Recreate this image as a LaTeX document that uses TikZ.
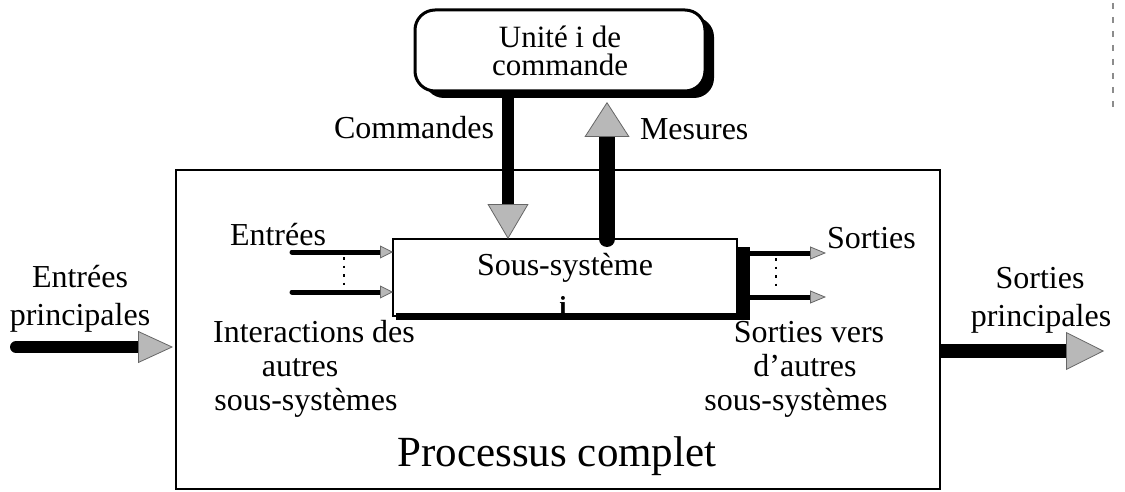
\documentclass[tikz,border=0pt]{standalone}
\usepackage{fontspec}
\setmainfont{Liberation Serif}
\usetikzlibrary{arrows.meta,calc,shadows}
\begin{document}
\begin{tikzpicture}[x=1pt,y=-1pt,
  every node/.style={inner sep=0pt,outer sep=0pt},
  lbl/.style={font=\fontsize{32}{34}\selectfont,anchor=base},
  frame/.style={draw,line width=2.4pt},
  bigin/.style={line width=12pt,line cap=round,
    -{Triangle[length=35pt,width=32pt,line width=0.8pt,fill=black!28,color=black!60]}},
  bigout/.style={line width=14pt,
    -{Triangle[length=38pt,width=38pt,line width=0.8pt,fill=black!28,color=black!60]}},
  cmdflow/.style={line width=12pt,
    -{Triangle[length=35pt,width=41pt,line width=0.8pt,fill=black!28,color=black!60]}},
  mesflow/.style={line width=16pt,line cap=round,
    -{Triangle[length=35pt,width=45pt,line width=0.8pt,fill=black!28,color=black!60]}},
  subin/.style={line width=5pt,line cap=round,
    -{Triangle[length=13pt,width=13pt,line width=0.8pt,fill=black!28,color=black!60]}},
  subout/.style={line width=5pt,
    -{Triangle[length=16pt,width=13pt,line width=0.8pt,fill=black!28,color=black!60]}},
  ellip/.style={line width=1.8pt,dash pattern=on 2.5pt off 6pt}
]
\useasboundingbox (0,0) rectangle (1125,492);

% whole process frame
\node[frame,minimum width=764pt,minimum height=319pt] (proc) at (558,329.5) {};
\node[font=\fontsize{43}{45}\selectfont,anchor=base] at (557,466) {Processus complet};

% control unit with its shadow
\node[draw,line width=3pt,fill=white,rounded corners=20pt,
      minimum width=290pt,minimum height=81pt,
      drop shadow={shadow xshift=9pt,shadow yshift=-7pt,fill=black,opacity=1},
      align=center,font=\fontsize{31}{28}\selectfont] (unit) at (560,50.5)
      {Unité i de\\commande};

% sub-system box, its thick bottom edge and output bar
\node[frame,minimum width=344pt,minimum height=77pt] (sub) at (565,277.5) {};
\fill ($(sub.south west)+(3,-3)$) rectangle ($(sub.south east)+(13,4)$);
\node[fill=black,minimum width=13pt,minimum height=73pt,anchor=north west]
  (bar) at ($(sub.north east)+(0,8)$) {};
\node[lbl] at (565,275) {Sous-système};
\node[font=\fontsize{26}{28}\selectfont\bfseries,anchor=base] at (563,314) {i};

% commands and measurements
\coordinate (cx) at (508,0);
\coordinate (mx) at (607,0);
\draw[cmdflow] (unit.south -| cx) -- (sub.north -| cx);
\draw[mesflow] (sub.north -| mx) -- ([yshift=-11pt]unit.south -| mx);
\node[lbl,anchor=base east] at (494,139) {Commandes};
\node[lbl,anchor=base west] at (640,140) {Mesures};

% inputs of the sub-system
\coordinate (e1) at (292,252);
\coordinate (e2) at (292,292);
\draw[subin] (e1) -- (sub.west |- e1);
\draw[subin] (e2) -- (sub.west |- e2);
\draw[ellip] (344,257) -- (344,289);
\node[lbl,anchor=base west] at (230,245) {Entrées};
\node[lbl] at (314,342) {Interactions des};
\node[lbl] at (300,376) {autres};
\node[lbl] at (306,410) {sous-systèmes};

% outputs of the sub-system
\coordinate (s1) at (826,253);
\coordinate (s2) at (826,297);
\draw[subout] (bar.east |- s1) -- (s1);
\draw[subout] (bar.east |- s2) -- (s2);
\draw[ellip] (776,258) -- (776,291);
\node[lbl,anchor=base west] at (827,248) {Sorties};
\node[lbl] at (809,342) {Sorties vers};
\node[lbl] at (805,376) {d’autres};
\node[lbl] at (796,410) {sous-systèmes};

% main inputs and outputs
\coordinate (inL) at (16,347);
\coordinate (outR) at (1104,351);
\draw[bigin,shorten >=3pt] (inL) -- (proc.west |- inL);
\draw[bigout] (proc.east |- outR) -- (outR);
\node[lbl] at (80,287) {Entrées};
\node[lbl] at (80,325) {principales};
\node[lbl] at (1040,288) {Sorties};
\node[lbl] at (1041,326) {principales};

% faint mark on the right edge
\draw[black!45,line width=1.5pt,dash pattern=on 6pt off 8pt] (1113,3) -- (1113,108);
\end{tikzpicture}
\end{document}
